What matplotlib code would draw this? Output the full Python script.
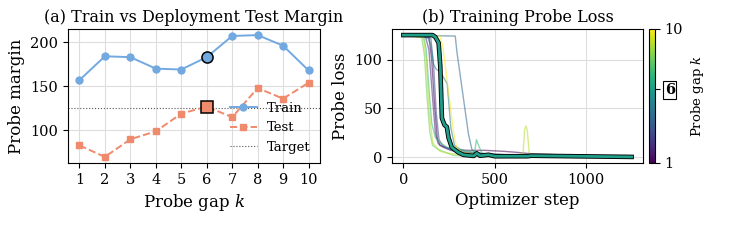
import numpy as np
import matplotlib
matplotlib.use("Agg")
import matplotlib.pyplot as plt
import matplotlib.patheffects as pe
from matplotlib import cm
from matplotlib.colors import Normalize

plt.rcParams['font.family'] = ['DejaVu Serif']
plt.rcParams['mathtext.fontset'] = 'dejavuserif'

# --- Panel (a): margins per probe gap ---
gaps = [1, 2, 3, 4, 5, 6, 7, 8, 9, 10]
train_margin = [157, 184, 183, 170, 169, 183, 207, 208, 196, 168]
test_margin = [83, 70, 90, 99, 119, 127, 115, 148, 136, 154]
target_margin = 125
chosen_k = 6

# --- Panel (b): probe loss curves, keypoints read per gap k ---
loss_steps = {
    1: [0, 140, 155, 170, 185, 200, 230, 280, 350, 450, 550, 620, 700, 850, 1000, 1250],
    2: [0, 120, 140, 160, 175, 190, 220, 260, 320, 400, 500, 650, 800, 1250],
    3: [0, 150, 165, 180, 195, 215, 250, 300, 400, 600, 1250],
    4: [0, 284, 293, 320, 338, 356, 375, 392, 450, 600, 1250],
    5: [0, 130, 150, 165, 180, 200, 225, 240, 260, 280, 330, 420, 600, 1250],
    6: [0, 160, 175, 193, 202, 211, 225, 238, 247, 265, 300, 329, 385, 402, 420, 467, 500, 680, 700, 1250],
    7: [0, 110, 125, 140, 155, 175, 200, 240, 300, 390, 400, 412, 430, 500, 1250],
    8: [0, 100, 115, 130, 145, 160, 190, 230, 270, 350, 500, 1250],
    9: [0, 110, 125, 140, 160, 200, 250, 300, 400, 500, 640, 656, 664, 671, 678, 689, 700, 750, 1250],
    10: [0, 200, 215, 235, 256, 274, 292, 320, 400, 420, 500, 1250],
}
loss_values = {
    1: [125, 123, 100, 55, 20, 12, 10, 8, 7, 7, 6, 5, 3.5, 2.5, 1.5, 1],
    2: [125, 124, 110, 60, 25, 14, 10, 7, 5, 4, 3, 2, 1, 0.5],
    3: [125, 122, 95, 45, 18, 12, 8, 5, 3, 1.5, 0.5],
    4: [125, 124, 108, 72, 48, 24, 8, 5, 3, 1.5, 0.5],
    5: [125, 124, 115, 95, 90, 88, 80, 75, 30, 12, 6, 4, 2, 0.5],
    6: [125, 125, 123, 117, 93, 40, 33, 31, 20, 10, 5, 2.4, 1.3, 4, 1.5, 2.5, 1, 1, 1.5, 0.3],
    7: [125, 124, 110, 70, 35, 20, 15, 10, 8, 5, 18, 12, 4, 2, 0.5],
    8: [125, 123, 105, 60, 25, 12, 8, 5, 2, 1, 0.5, 0.3],
    9: [125, 122, 100, 50, 15, 6, 4, 3, 3, 2, 2.5, 5, 28, 32, 28, 5, 2.5, 1, 0.5],
    10: [125, 124, 115, 85, 54, 26, 10, 5, 3, 3, 2, 0.5],
}

TRAIN_COLOR = '#72a9e0'
TEST_COLOR = '#f08a6c'

fig = plt.figure(figsize=(7.48, 2.42), dpi=100)
ax1 = fig.add_axes([68 / 748, 1 - 163 / 242, 252 / 748, 134 / 242])
ax2 = fig.add_axes([392 / 748, 1 - 163 / 242, 251 / 748, 134 / 242])
cax = fig.add_axes([648.5 / 748, 1 - 163 / 242, 6.5 / 748, 134 / 242])

# (a)
ax1.plot(gaps, train_margin, '-o', color=TRAIN_COLOR, lw=1.4, ms=5, label='Train', zorder=3)
ax1.plot(gaps, test_margin, '--s', color=TEST_COLOR, lw=1.4, ms=5, label='Test', zorder=3)
ax1.axhline(target_margin, color='#555555', ls=':', lw=0.8, label='Target', zorder=2)
i6 = gaps.index(chosen_k)
ax1.plot(gaps[i6], train_margin[i6], 'o', color=TRAIN_COLOR, ms=8, mec='black', mew=1.1, zorder=4)
ax1.plot(gaps[i6], test_margin[i6], 's', color=TEST_COLOR, ms=8, mec='black', mew=1.1, zorder=4)
ax1.set_xticks(gaps)
ax1.set_xlabel('Probe gap $k$', fontsize=12)
ax1.set_ylabel('Probe margin', fontsize=12)
ax1.set_title('(a) Train vs Deployment Test Margin', fontsize=11.5, pad=5)
ax1.grid(True, color='#dddddd', lw=0.8)
ax1.tick_params(labelsize=10.5)
ax1.legend(loc='lower right', frameon=False, fontsize=9.5, borderaxespad=0.3)

# (b)
norm = Normalize(vmin=1, vmax=10)
cmap = plt.get_cmap('viridis')
for k in gaps:
    if k == chosen_k:
        continue
    ax2.plot(loss_steps[k], loss_values[k], color=cmap(norm(k)), lw=1.0, alpha=0.55)
ax2.plot(loss_steps[chosen_k], loss_values[chosen_k], color=cmap(norm(chosen_k)), lw=2.0,
         zorder=5, path_effects=[pe.Stroke(linewidth=3.3, foreground='black'), pe.Normal()])
ax2.set_xlabel('Optimizer step', fontsize=12)
ax2.set_ylabel('Probe loss', fontsize=12)
ax2.set_title('(b) Training Probe Loss', fontsize=11.5, pad=5)
ax2.set_yticks([0, 50, 100])
ax2.set_xticks([0, 500, 1000])
ax2.grid(True, color='#dddddd', lw=0.8)
ax2.tick_params(labelsize=10.5)

sm = cm.ScalarMappable(norm=norm, cmap=cmap)
cbar = fig.colorbar(sm, cax=cax, ticks=[1, chosen_k, 10])
cbar.outline.set_linewidth(0.8)
cax.tick_params(labelsize=10.5)
labels = cax.get_yticklabels()
labels[1].set_fontweight('bold')
labels[1].set_bbox(dict(facecolor='white', edgecolor='black', pad=1.2, lw=0.8))
cbar.set_label('Probe gap $k$', fontsize=9.5)

fig.savefig('out.png', dpi=100)
